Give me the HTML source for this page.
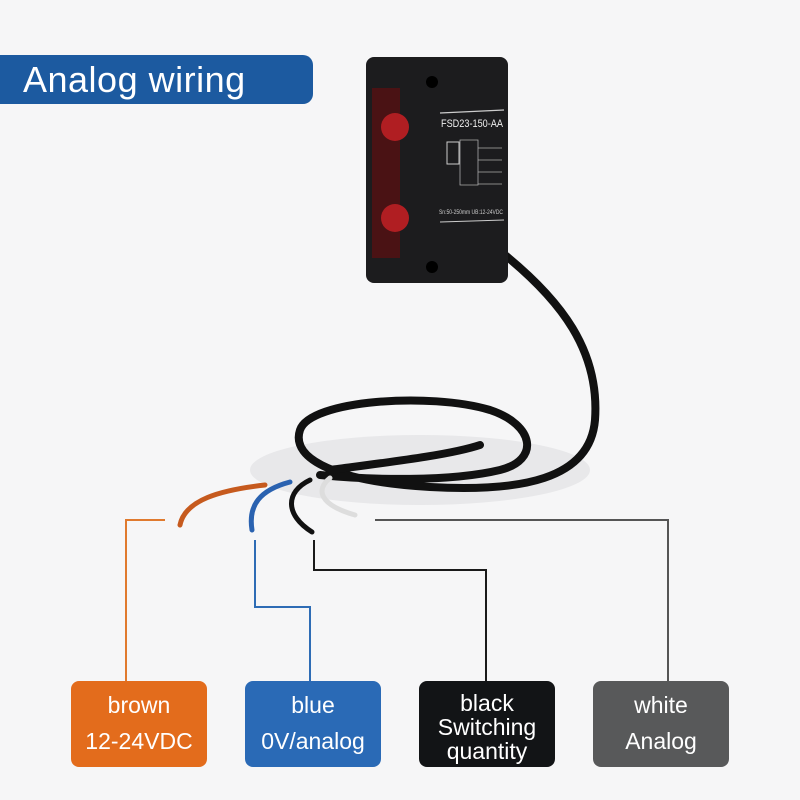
<!DOCTYPE html>
<html><head><meta charset="utf-8"><style>
html,body{margin:0;padding:0;background:#f6f6f7;}
.wrap{position:relative;width:800px;height:800px;overflow:hidden;font-family:"Liberation Sans",sans-serif;}
.banner{position:absolute;left:0;top:55px;width:313px;height:49px;background:#1c5aa0;border-radius:0 10px 10px 0;color:#fff;font-size:36px;line-height:49px;padding-left:23px;box-sizing:border-box;letter-spacing:0.5px;}
.box{position:absolute;top:681px;width:136px;height:86px;border-radius:8px;color:#fff;font-size:23px;text-align:center;line-height:36px;padding-top:6px;box-sizing:border-box;}
.box.b3{line-height:24px;padding-top:10px;}
svg{position:absolute;left:0;top:0;}
</style></head><body><div class="wrap">
<svg width="800" height="800">
  <ellipse cx="420" cy="470" rx="170" ry="35" fill="#e8e8ea"/>
  <g fill="none" stroke="#111" stroke-width="8" stroke-linecap="round">
    <path d="M505 255 C560 300 600 350 595 420 C590 480 520 492 430 487 C340 482 290 460 300 430 C310 400 430 392 490 410 C535 425 540 460 500 470 C450 482 370 480 320 475"/>
    <path d="M330 470 C390 462 450 455 480 445"/>
  </g>
  <g fill="none" stroke-width="5" stroke-linecap="round">
    <path d="M265 485 C220 490 185 500 180 525" stroke="#c65a1e"/>
    <path d="M290 482 C260 490 248 505 252 530" stroke="#2a62b0"/>
    <path d="M310 480 C285 492 285 515 312 532" stroke="#111"/>
    <path d="M330 478 C315 490 320 505 355 515" stroke="#ddd"/>
  </g>
  <rect x="366" y="57" width="142" height="226" rx="8" fill="#1c1c1e"/>
  <rect x="372" y="88" width="28" height="170" fill="#4a1214"/>
  <circle cx="395" cy="127" r="14" fill="#b01e22"/>
  <circle cx="395" cy="218" r="14" fill="#b01e22"/>
  <circle cx="432" cy="82" r="6" fill="#000"/>
  <circle cx="432" cy="267" r="6" fill="#000"/>
  <line x1="440" y1="113" x2="504" y2="110" stroke="#ccc" stroke-width="1.2"/>
  <text x="441" y="127" fill="#eee" font-size="11" textLength="62" lengthAdjust="spacingAndGlyphs">FSD23-150-AA</text>
  <rect x="447" y="142" width="12" height="22" fill="none" stroke="#ccc"/>
  <path d="M460 140 L478 140 L478 185 L460 185 Z M478 148 H502 M478 160 H502 M478 172 H502 M478 184 H502" fill="none" stroke="#aaa" stroke-width="0.8"/>
  <text x="439" y="214" fill="#ccc" font-size="6" textLength="64" lengthAdjust="spacingAndGlyphs">Sn:50-250mm UB:12-24VDC</text>
  <line x1="440" y1="222" x2="504" y2="220" stroke="#ccc" stroke-width="1"/>
  <g fill="none" stroke-width="2">
    <path d="M165 520 H126 V681" stroke="#e07a2e"/>
    <path d="M255 540 V607 H310 V681" stroke="#2e6cb5"/>
    <path d="M314 540 V570 H486 V681" stroke="#1a1a1a"/>
    <path d="M375 520 H668 V681" stroke="#555"/>
  </g>
</svg>
<div class="banner">Analog wiring</div>
<div class="box" style="left:71px;background:#e36c1c;">brown<br>12-24VDC</div>
<div class="box" style="left:245px;background:#2a6ab6;">blue<br>0V/analog</div>
<div class="box b3" style="left:419px;background:#121416;">black<br>Switching<br>quantity</div>
<div class="box" style="left:593px;background:#58595a;">white<br>Analog</div>
</div></body></html>
